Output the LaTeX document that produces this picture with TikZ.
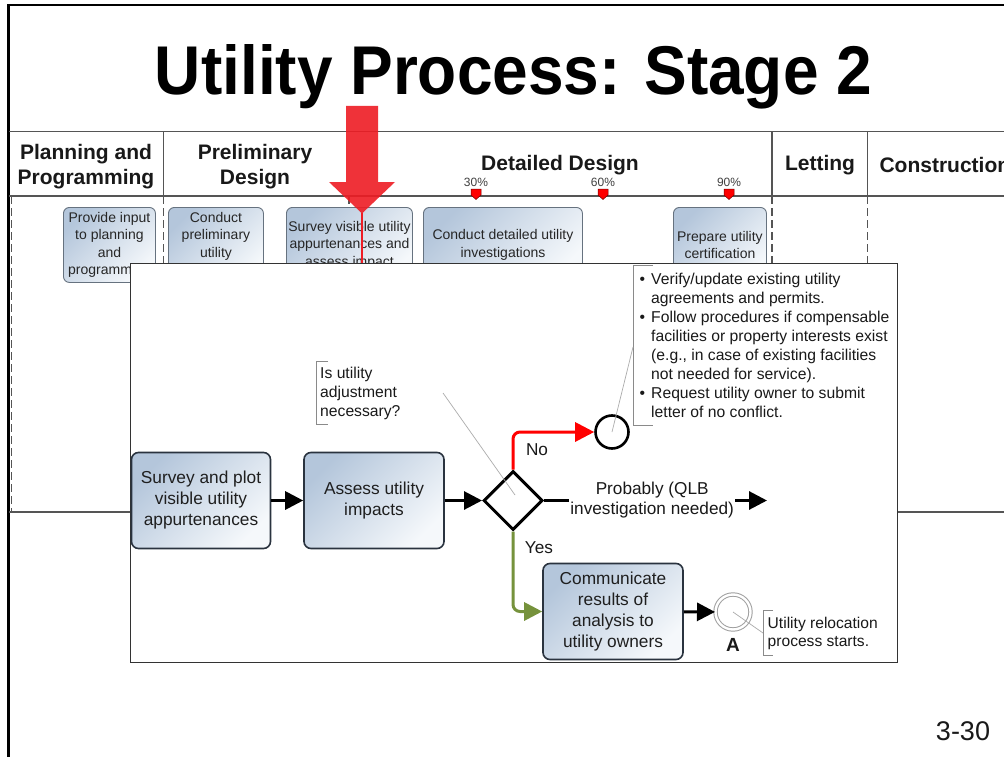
\documentclass[tikz,border=0pt]{standalone}
\usepackage{graphicx}
\usepackage{fontspec}
\setmainfont{Liberation Sans}
\usetikzlibrary{shapes.geometric,arrows.meta}
\definecolor{boxtop}{HTML}{B4C6DB}
\definecolor{boxbot}{HTML}{F5F8FB}
\definecolor{boxedge}{HTML}{2A333F}
\definecolor{laneedge}{HTML}{66727F}
\definecolor{yesgreen}{HTML}{76923C}
\definecolor{arrowred}{HTML}{EE1C24}
\definecolor{notegray}{HTML}{8A8A8A}
\definecolor{hdrline}{HTML}{555555}
\begin{document}
\begin{tikzpicture}[x=1pt,y=-1pt,
  task/.style={rectangle, rounded corners=7pt, draw=boxedge, line width=1.6pt,
    top color=boxtop, bottom color=boxbot, shading angle=45,
    align=center, text=black!88, font=\fontsize{17.3}{21}\selectfont,
    minimum width=139pt, minimum height=96pt, inner sep=2pt},
  lanetask/.style={rectangle, rounded corners=6pt, draw=laneedge, line width=0.9pt,
    top color=boxtop, bottom color=boxbot, shading angle=45,
    align=center, text=black!85, font=\fontsize{14}{17.5}\selectfont,
    minimum height=75pt, inner sep=1pt, anchor=north west},
  hdr/.style={font=\fontsize{21}{25}\selectfont\bfseries, align=center, text=black!90},
  mslabel/.style={font=\fontsize{12}{12}\selectfont, text=black!75},
  flow/.style={line width=3pt, -{Triangle[length=18pt,width=18pt]}},
  noflow/.style={line width=3pt, red, rounded corners=7pt, -{Triangle[length=19pt,width=19pt]}},
  yesflow/.style={line width=3pt, yesgreen, rounded corners=7pt, -{Triangle[length=18pt,width=18pt]}},
  notebr/.style={draw=notegray, line width=0.9pt},
  assoc/.style={draw=gray!65, line width=0.7pt},
  notetext/.style={font=\fontsize{15.7}{19}\selectfont, align=left, inner sep=0pt, text=black!90, anchor=north west},
  lanesep/.style={draw=hdrline, line width=1.4pt, dash pattern=on 8pt off 4pt}
]
\useasboundingbox (0,0) rectangle (1004,757);
\fill[white] (0,0) rectangle (1004,757);
\begin{scope}
\clip (0,0) rectangle (1004,757);

% slide frame
\draw[black, line width=2.4pt] (8.5,757) -- (8.5,5) -- (1004,5);

% title
\node[anchor=base] (title) at (513.5,95) {\resizebox{717pt}{50pt}{\bfseries Utility Process: Stage 2}};

% header of swimlane
\draw[hdrline, line width=1.3pt] (9,131.5) -- (1004,131.5);
\draw[hdrline, line width=1.3pt] (9,196) -- (1004,196);
\draw[hdrline, line width=1.3pt] (163.5,131.5) -- (163.5,196);
\draw[hdrline, line width=1.3pt] (772,131.5) -- (772,196);
\draw[hdrline, line width=1.3pt] (867.5,131.5) -- (867.5,196);

\node[hdr] (hplan) at (86,166.5) {Planning and\\Programming};
\node[hdr] (hprel) at (255,166.5) {Preliminary\\Design};
\node[hdr] (hdet) at (560,165) {Detailed Design};
\node[hdr] (hlet) at (820,165) {Letting};
\node[hdr, anchor=west] (hcon) at (876,165) {Construction};

\node[mslabel] (m30) at (476,182) {30\%};
\node[mslabel] (m60) at (603,182) {60\%};
\node[mslabel] (m90) at (729,182) {90\%};
\foreach \mx in {476,603,729} {
  \filldraw[fill=red, draw=red!45!black, line width=0.5pt]
    (\mx-5,189) -- (\mx+5,189) -- (\mx+5,195) -- (\mx,199.5) -- (\mx-5,195) -- cycle;
}

% lane lines
\draw[lanesep] (11.5,196) -- (11.5,512);
\draw[lanesep] (163.5,196) -- (163.5,512);
\draw[lanesep] (349,196) -- (349,512);
\draw[lanesep] (772,196) -- (772,512);
\draw[lanesep] (867.5,196) -- (867.5,512);
\draw[hdrline, line width=1.3pt] (9,512) -- (1004,512);

% lane tasks
\node[lanetask, minimum width=92pt] (prov) at (63,207) {Provide input\\to planning\\and\\programming};
\node[lanetask, minimum width=95pt] (cond) at (168,207) {Conduct\\preliminary\\utility\\investigation};
\node[lanetask, minimum width=126pt] (svis) at (286,207) {Survey visible utility\\appurtenances and\\assess impact};
\node[lanetask, minimum width=159pt] (cdet) at (423,207) {Conduct detailed utility\\investigations};
\node[lanetask, minimum width=93pt] (prep) at (673,207) {Prepare utility\\certification};

% big red pointer
\fill[arrowred, opacity=0.9] (346,106) -- (378,106) -- (378,182) -- (395,182) -- (362,213.5)
  -- (329,182) -- (346,182) -- cycle;
\draw[arrowred, line width=1.3pt] (362,213) -- (362,263);

% overlay panel
\node[draw=black!80, line width=1.3pt, fill=white, anchor=north west, inner sep=0pt,
  minimum width=767pt, minimum height=399pt] (panel) at (130,263) {};

% process
\node[task] (survey) at (201,500.5) {Survey and plot\\visible utility\\appurtenances};
\node[task, minimum width=140pt] (assess) at (374,500.5) {Assess utility\\impacts};
\node[diamond, draw, line width=3pt, minimum width=59pt, minimum height=59pt, inner sep=0pt, aspect=1] (dec) at (513,500.5) {};
\node[circle, draw, line width=2.6pt, minimum size=33pt, inner sep=0pt] (noend) at (612,432) {};
\node[task, minimum width=140pt] (comm) at (613,611.5) {Communicate\\results of\\analysis to\\utility owners};
\node[circle, draw=gray!75, line width=1pt, double=white, double distance=2.4pt, minimum size=35pt, inner sep=0pt] (endA) at (733,612) {};
\node[font=\fontsize{19}{19}\selectfont\bfseries, text=black!90] (labA) at (733,645) {A};
\coordinate (pend) at (767,500.5);

\draw[flow] (survey) -- (assess);
\draw[flow] (assess) -- (dec);
\draw[noflow] (dec.north) |- (noend.west);
\draw[yesflow] (dec.south) |- (comm.west);
\draw[flow] (comm) -- (endA);
\draw[flow] (dec.east) -- (pend) node[pos=0.485, fill=white, inner xsep=1pt, inner ysep=0pt, align=center,
  font=\fontsize{17.2}{20}\selectfont, text=black!90] (prob) {Probably (QLB\\investigation needed)};

\node[font=\fontsize{17.2}{17.2}\selectfont, text=black!90] (lno) at (537,450) {No};
\node[font=\fontsize{17.2}{17.2}\selectfont, text=black!90] (lyes) at (539,548) {Yes};

% annotation: question
\node[notetext] (q) at (320,367) {Is utility\\adjustment\\necessary?};
\draw[notebr] (328,361) -- (316,361) -- (316,424) -- (328,424);
\coordinate (qa) at (443,393);
\coordinate (qb) at (515,495);
\draw[assoc] (qa) -- (qb);

% annotation: bullets
\node[notetext] (bul) at (639.5,271) {\begin{tabular}{@{}l@{\hspace{6pt}}l@{}}
\textbullet & Verify/update existing utility\\
 & agreements and permits.\\
\textbullet & Follow procedures if compensable\\
 & facilities or property interests exist\\
 & (e.g., in case of existing facilities\\
 & not needed for service).\\
\textbullet & Request utility owner to submit\\
 & letter of no conflict.
\end{tabular}};
\draw[notebr] (653,265) -- (633,265) -- (633,425) -- (653,425);
\coordinate (ba) at (633,347);
\draw[assoc] (ba) -- (noend.center);

% annotation: relocation
\node[notetext, font=\fontsize{15.6}{18}\selectfont] (rel) at (767.5,617) {Utility relocation\\process starts.};
\draw[notebr] (773,610) -- (763,610) -- (763,655) -- (773,655);
\coordinate (ra) at (763,633);
\draw[assoc] (endA.center) -- (ra);

% page number
\node[font=\fontsize{27}{27}\selectfont, text=black!90] (pg) at (963,731) {3-30};
\end{scope}
\end{tikzpicture}
\end{document}
